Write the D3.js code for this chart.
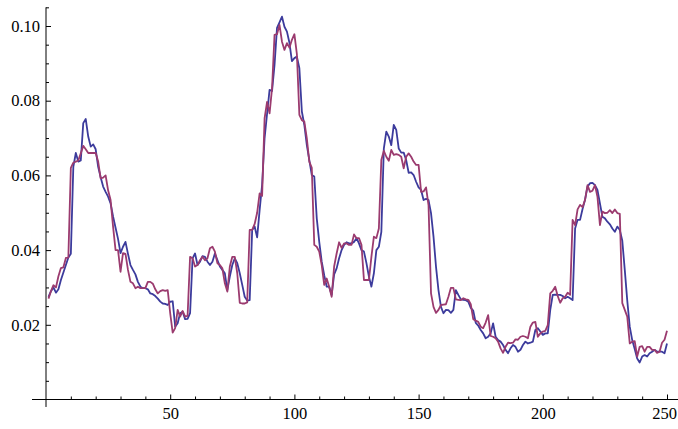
<!DOCTYPE html>
<html>
<head>
<meta charset="utf-8">
<script src="https://cdn.jsdelivr.net/npm/d3@7"></script>
<style>
  body { margin: 0; background: #fff; }
</style>
</head>
<body>
<script>
// series values, one per step from x = 1 to 250
var blue = [
  0.0275, 0.0290, 0.0300, 0.0286, 0.0295, 0.0320, 0.0340, 0.0360, 0.0380, 0.0390,
  0.0623, 0.0660, 0.0637, 0.0640, 0.0740, 0.0751, 0.0704, 0.0677, 0.0683, 0.0670,
  0.0623, 0.0595, 0.0570, 0.0556, 0.0543, 0.0525, 0.0490, 0.0460, 0.0430, 0.0392,
  0.0409, 0.0422, 0.0390, 0.0360, 0.0347, 0.0335, 0.0315, 0.0302, 0.0298, 0.0298,
  0.0295, 0.0284, 0.0282, 0.0277, 0.0270, 0.0262, 0.0257, 0.0256, 0.0253, 0.0262,
  0.0263, 0.0195, 0.0204, 0.0231, 0.0235, 0.0215, 0.0216, 0.0231, 0.0378, 0.0391,
  0.0360, 0.0369, 0.0384, 0.0382, 0.0369, 0.0360, 0.0369, 0.0391, 0.0373, 0.0356,
  0.0347, 0.0338, 0.0293, 0.0329, 0.0360, 0.0378, 0.0365, 0.0338, 0.0307, 0.0275,
  0.0265, 0.0266, 0.0454, 0.0463, 0.0434, 0.0507, 0.0575, 0.0700, 0.0765, 0.0829,
  0.0826, 0.0896, 0.0995, 0.1010, 0.1025, 0.0998, 0.0985, 0.0955, 0.0906, 0.0914,
  0.0918, 0.0887, 0.0771, 0.0735, 0.0681, 0.0641, 0.0601, 0.0597, 0.0485, 0.0422,
  0.0369, 0.0333, 0.0302, 0.0302, 0.0280, 0.0335, 0.0351, 0.0378, 0.0400, 0.0414,
  0.0421, 0.0418, 0.0418, 0.0422, 0.0432, 0.0418, 0.0400, 0.0396, 0.0365, 0.0329,
  0.0302, 0.0338, 0.0400, 0.0409, 0.0449, 0.0672, 0.0717, 0.0704, 0.0681, 0.0735,
  0.0722, 0.0672, 0.0661, 0.0661, 0.0641, 0.0607, 0.0608, 0.0601, 0.0583, 0.0568,
  0.0561, 0.0534, 0.0537, 0.0534, 0.0499, 0.0436, 0.0356, 0.0293, 0.0248, 0.0231,
  0.0240, 0.0239, 0.0232, 0.0240, 0.0293, 0.0280, 0.0268, 0.0267, 0.0266, 0.0262,
  0.0245, 0.0238, 0.0205, 0.0198, 0.0186, 0.0177, 0.0164, 0.0168, 0.0177, 0.0204,
  0.0168, 0.0159, 0.0155, 0.0146, 0.0133, 0.0124, 0.0137, 0.0146, 0.0141, 0.0128,
  0.0133, 0.0146, 0.0155, 0.0150, 0.0152, 0.0155, 0.0186, 0.0191, 0.0182, 0.0173,
  0.0177, 0.0177, 0.0240, 0.0280, 0.0281, 0.0280, 0.0280, 0.0277, 0.0271, 0.0275,
  0.0271, 0.0266, 0.0458, 0.0481, 0.0481, 0.0510, 0.0535, 0.0570, 0.0579, 0.0580,
  0.0574, 0.0561, 0.0525, 0.0489, 0.0485, 0.0476, 0.0469, 0.0458, 0.0449, 0.0463,
  0.0454, 0.0425, 0.0347, 0.0265, 0.0195, 0.0159, 0.0135, 0.0110, 0.0099, 0.0115,
  0.0119, 0.0115, 0.0124, 0.0128, 0.0133, 0.0128, 0.0128, 0.0128, 0.0124, 0.0150
];

var purple = [
  0.0270, 0.0290, 0.0306, 0.0300, 0.0330, 0.0352, 0.0354, 0.0379, 0.0380, 0.0620,
  0.0634, 0.0637, 0.0640, 0.0659, 0.0679, 0.0670, 0.0660, 0.0660, 0.0660, 0.0660,
  0.0637, 0.0592, 0.0594, 0.0600, 0.0560, 0.0534, 0.0463, 0.0400, 0.0400, 0.0342,
  0.0392, 0.0390, 0.0347, 0.0315, 0.0311, 0.0298, 0.0302, 0.0298, 0.0298, 0.0298,
  0.0315, 0.0315, 0.0310, 0.0295, 0.0284, 0.0290, 0.0293, 0.0291, 0.0293, 0.0231,
  0.0179, 0.0191, 0.0240, 0.0222, 0.0237, 0.0222, 0.0224, 0.0382, 0.0378, 0.0356,
  0.0360, 0.0373, 0.0382, 0.0373, 0.0378, 0.0405, 0.0409, 0.0396, 0.0365, 0.0360,
  0.0351, 0.0311, 0.0289, 0.0356, 0.0382, 0.0382, 0.0338, 0.0259, 0.0257, 0.0257,
  0.0260, 0.0454, 0.0454, 0.0470, 0.0500, 0.0552, 0.0545, 0.0753, 0.0797, 0.0766,
  0.0833, 0.0976, 0.0978, 0.1003, 0.0958, 0.0936, 0.0954, 0.0942, 0.0963, 0.0978,
  0.0925, 0.0762, 0.0748, 0.0744, 0.0699, 0.0637, 0.0620, 0.0414, 0.0409, 0.0396,
  0.0360, 0.0307, 0.0324, 0.0302, 0.0275, 0.0356, 0.0391, 0.0421, 0.0406, 0.0418,
  0.0418, 0.0414, 0.0414, 0.0442, 0.0432, 0.0432, 0.0414, 0.0320, 0.0320, 0.0320,
  0.0382, 0.0436, 0.0432, 0.0458, 0.0641, 0.0666, 0.0650, 0.0639, 0.0668, 0.0655,
  0.0657, 0.0655, 0.0650, 0.0619, 0.0650, 0.0659, 0.0650, 0.0637, 0.0628, 0.0628,
  0.0556, 0.0557, 0.0568, 0.0520, 0.0284, 0.0248, 0.0232, 0.0240, 0.0253, 0.0254,
  0.0255, 0.0275, 0.0299, 0.0299, 0.0268, 0.0267, 0.0266, 0.0271, 0.0268, 0.0267,
  0.0255, 0.0215, 0.0211, 0.0208, 0.0195, 0.0191, 0.0206, 0.0226, 0.0170, 0.0168,
  0.0164, 0.0155, 0.0137, 0.0125, 0.0141, 0.0152, 0.0151, 0.0152, 0.0161, 0.0160,
  0.0168, 0.0170, 0.0168, 0.0164, 0.0195, 0.0206, 0.0208, 0.0168, 0.0177, 0.0182,
  0.0184, 0.0199, 0.0284, 0.0291, 0.0302, 0.0277, 0.0259, 0.0271, 0.0275, 0.0286,
  0.0280, 0.0481, 0.0467, 0.0509, 0.0521, 0.0515, 0.0534, 0.0574, 0.0556, 0.0559,
  0.0574, 0.0543, 0.0467, 0.0503, 0.0499, 0.0500, 0.0507, 0.0499, 0.0509, 0.0499,
  0.0497, 0.0258, 0.0240, 0.0222, 0.0150, 0.0155, 0.0156, 0.0115, 0.0141, 0.0143,
  0.0128, 0.0141, 0.0141, 0.0133, 0.0133, 0.0125, 0.0128, 0.0152, 0.0160, 0.0184
];

var xTicks = [50, 100, 150, 200, 250];
var yTicks = [0.02, 0.04, 0.06, 0.08, 0.10];

var width = 678, height = 429;
var font = '"Liberation Serif", "Times New Roman", serif';

var svg = d3.select("body").append("svg")
  .attr("width", width)
  .attr("height", height);

var x = d3.scaleLinear().domain([0, 250]).range([46, 667]);
var y = d3.scaleLinear().domain([0, 0.10]).range([399.5, 26]);

// minor tick positions
var xMinor = d3.range(10, 251, 10).filter(d => d % 50 != 0);
var yMinor = d3.range(1, 22).map(d => d * 0.005).filter(d => Math.round(d * 1000) % 20 != 0);

// axes lines, a bit past the data range like the original
svg.append("line")
  .attr("x1", 32).attr("x2", width)
  .attr("y1", y(0)).attr("y2", y(0))
  .attr("stroke", "#000").attr("stroke-width", 1);
svg.append("line")
  .attr("x1", x(0)).attr("x2", x(0))
  .attr("y1", y(-0.002)).attr("y2", y(0.105))
  .attr("stroke", "#000").attr("stroke-width", 1);

// major ticks with labels
var xAxis = d3.axisBottom(x).tickValues(xTicks).tickSizeInner(-5).tickSizeOuter(0).tickPadding(8);
var yAxis = d3.axisLeft(y).tickValues(yTicks).tickFormat(d3.format(".2f")).tickSizeInner(-5).tickSizeOuter(0).tickPadding(6);

var gx = svg.append("g").attr("transform", `translate(0,${y(0)})`).call(xAxis);
var gy = svg.append("g").attr("transform", `translate(${x(0)},0)`).call(yAxis);

// minor ticks, no labels
var gx2 = svg.append("g").attr("transform", `translate(0,${y(0)})`)
  .call(d3.axisBottom(x).tickValues(xMinor).tickSizeInner(-3).tickSizeOuter(0).tickFormat(""));
var gy2 = svg.append("g").attr("transform", `translate(${x(0)},0)`)
  .call(d3.axisLeft(y).tickValues(yMinor).tickSizeInner(-3).tickSizeOuter(0).tickFormat(""));

[gx, gy, gx2, gy2].forEach(g => {
  g.attr("font-family", font).attr("font-size", 16.5);
  g.select(".domain").remove();
  g.selectAll("line").attr("stroke", "#000");
  g.selectAll("text").attr("fill", "#000");
});

// last label sits against the right edge, keep it inside
gx.selectAll(".tick text").filter(d => d == 250).attr("x", -3);

var line = d3.line()
  .x((d, i) => x(i + 1))
  .y(d => y(d));

svg.append("path")
  .attr("d", line(blue))
  .attr("fill", "none")
  .attr("stroke", "#3c3b9c")
  .attr("stroke-width", 1.8)
  .attr("stroke-linejoin", "round");

svg.append("path")
  .attr("d", line(purple))
  .attr("fill", "none")
  .attr("stroke", "#9b3b6f")
  .attr("stroke-width", 1.8)
  .attr("stroke-linejoin", "round");
</script>
</body>
</html>
